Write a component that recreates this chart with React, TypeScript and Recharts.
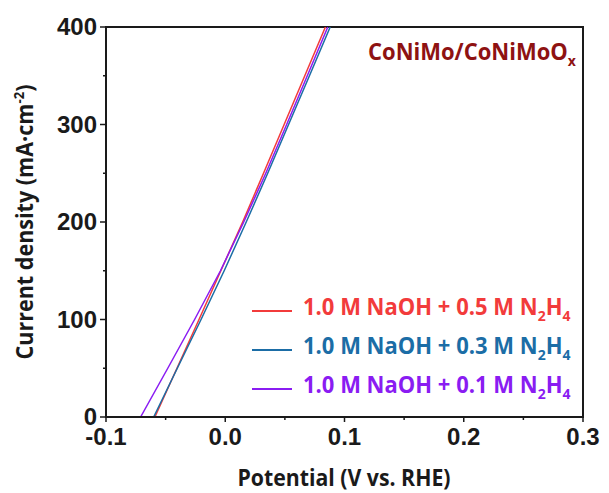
import { LineChart, Line, XAxis, YAxis, Legend, ReferenceArea } from 'recharts';

// Current density levels (mA·cm-2) shared by all three polarization curves
const currents = [0, 50, 100, 150, 200, 250, 300, 350, 400];

// Potential (V vs. RHE) at each current level
const potentialHigh = [-0.059, -0.0405, -0.022, -0.0037, 0.0146, 0.0321, 0.0494, 0.0667, 0.084];
const potentialMid = [-0.06, -0.0402, -0.0203, -0.0009, 0.0176, 0.0356, 0.0531, 0.0706, 0.088];
const potentialLow = [-0.071, -0.0482, -0.0257, -0.004, 0.0155, 0.034, 0.0515, 0.0688, 0.086];

const seriesNames = [
  '1.0 M NaOH + 0.5 M N2H4',
  '1.0 M NaOH + 0.3 M N2H4',
  '1.0 M NaOH + 0.1 M N2H4',
];
const seriesColors = ['#F23B3B', '#1B6DA6', '#8A1CF2'];

const xTicks = [-0.1, -0.05, 0, 0.05, 0.1, 0.15, 0.2, 0.25, 0.3];
const yTicks = [0, 50, 100, 150, 200, 250, 300, 350, 400];

const toPoints = (vs: number[]) => vs.map((v, i) => ({ v, j: currents[i] }));
const series = [potentialHigh, potentialMid, potentialLow].map(toPoints);

const INK = '#1a1a1a';
const TICK_FONT = '"Liberation Sans", Arial, sans-serif';
const TEXT_FONT = '"Open Sans", Lato, sans-serif';

const isMajor = (v: number, step: number) => Math.abs(v / step - Math.round(v / step)) < 1e-6;

function XTick({ x, y, payload }: any) {
  const major = isMajor(payload.value, 0.1);
  return (
    <g>
      <line x1={x} x2={x} y1={y} y2={y + (major ? 5 : 3)} stroke={INK} strokeWidth={1.5} />
      {major && (
        <text x={x} y={y + 28} textAnchor="middle" fontFamily={TICK_FONT} fontWeight="bold" fontSize={24} fill={INK}>
          {payload.value.toFixed(1)}
        </text>
      )}
    </g>
  );
}

function YTick({ x, y, payload }: any) {
  const major = isMajor(payload.value, 100);
  return (
    <g>
      <line x1={x - (major ? 6 : 3)} x2={x} y1={y} y2={y} stroke={INK} strokeWidth={1.5} />
      {major && (
        <text x={x - 9} y={y + 8} textAnchor="end" fontFamily={TICK_FONT} fontWeight="bold" fontSize={24} fill={INK}>
          {payload.value}
        </text>
      )}
    </g>
  );
}

const tallText = {
  display: 'inline-block',
  transform: 'scaleY(1.06)',
  transformOrigin: 'left center',
};

// Renders "N2H4" with subscript digits
function Formula({ text }: { text: string }) {
  const [head] = text.split('N2H4');
  return (
    <span>
      {head}N<sub style={{ fontSize: 14 }}>2</sub>H<sub style={{ fontSize: 14 }}>4</sub>
    </span>
  );
}

function LegendBox() {
  return (
    <div>
      {seriesNames.map((name, i) => (
        <div key={name} style={{ display: 'flex', alignItems: 'center', height: 39 }}>
          <div style={{ width: 40, height: 2, background: seriesColors[i], marginRight: 11 }} />
          <div
            style={{
              ...tallText,
              color: seriesColors[i],
              fontFamily: TEXT_FONT,
              fontWeight: 700,
              fontSize: 22,
              lineHeight: '22px',
              whiteSpace: 'nowrap',
            }}
          >
            <Formula text={name} />
          </div>
        </div>
      ))}
    </div>
  );
}

function YTitle() {
  return (
    <text
      transform="translate(33, 222) rotate(-90)"
      textAnchor="middle"
      fontFamily={TEXT_FONT}
      fontWeight="bold"
      fontSize={23}
      fill={INK}
      textLength={275}
      lengthAdjust="spacingAndGlyphs"
    >
      Current density (mA·cm<tspan dy={-9} fontSize={14}>-2</tspan>
      <tspan dy={9}>)</tspan>
    </text>
  );
}

function XTitle() {
  return (
    <text
      transform="translate(344, 486) scale(1, 1.1)"
      textAnchor="middle"
      fontFamily={TEXT_FONT}
      fontWeight="bold"
      fontSize={21}
      fill={INK}
      textLength={213}
      lengthAdjust="spacingAndGlyphs"
    >
      Potential (V vs. RHE)
    </text>
  );
}

export default function App() {
  return (
    <div style={{ position: 'absolute', left: 0, top: 0, width: 609, height: 493, background: '#fff' }}>
      <LineChart width={609} height={493} margin={{ top: 27, right: 26, left: 0, bottom: 0 }}>
        <ReferenceArea x1={-0.1} x2={0.3} y1={0} y2={400} fill="none" stroke={INK} strokeWidth={2} ifOverflow="visible" />
        <XAxis
          dataKey="v"
          type="number"
          domain={[-0.1, 0.3]}
          ticks={xTicks}
          interval={0}
          allowDataOverflow
          height={76}
          tickSize={0}
          tickMargin={0}
          tick={<XTick />}
          axisLine={{ stroke: INK, strokeWidth: 2 }}
          label={<XTitle />}
        />
        <YAxis
          dataKey="j"
          type="number"
          domain={[0, 400]}
          ticks={yTicks}
          interval={0}
          allowDataOverflow
          width={106}
          tickSize={0}
          tickMargin={0}
          tick={<YTick />}
          axisLine={{ stroke: INK, strokeWidth: 2 }}
          label={<YTitle />}
        />
        <Legend
          layout="horizontal"
          verticalAlign="middle"
          align="center"
          content={<LegendBox />}
          wrapperStyle={{ position: 'absolute', left: 252, top: 291, width: 345 }}
        />
        {series.map((pts, i) => (
          <Line
            key={seriesNames[i]}
            data={pts}
            dataKey="j"
            name={seriesNames[i]}
            stroke={seriesColors[i]}
            strokeWidth={1.5}
            dot={false}
            type="linear"
            isAnimationActive={false}
          />
        ))}
      </LineChart>
      <div
        style={{
          position: 'absolute',
          left: 368,
          top: 38,
          color: '#8E1212',
          fontFamily: TEXT_FONT,
          fontWeight: 700,
          fontSize: 22,
          lineHeight: '26px',
          whiteSpace: 'nowrap',
          ...tallText,
        }}
      >
        CoNiMo/CoNiMoO<sub style={{ fontSize: 14 }}>x</sub>
      </div>
    </div>
  );
}
